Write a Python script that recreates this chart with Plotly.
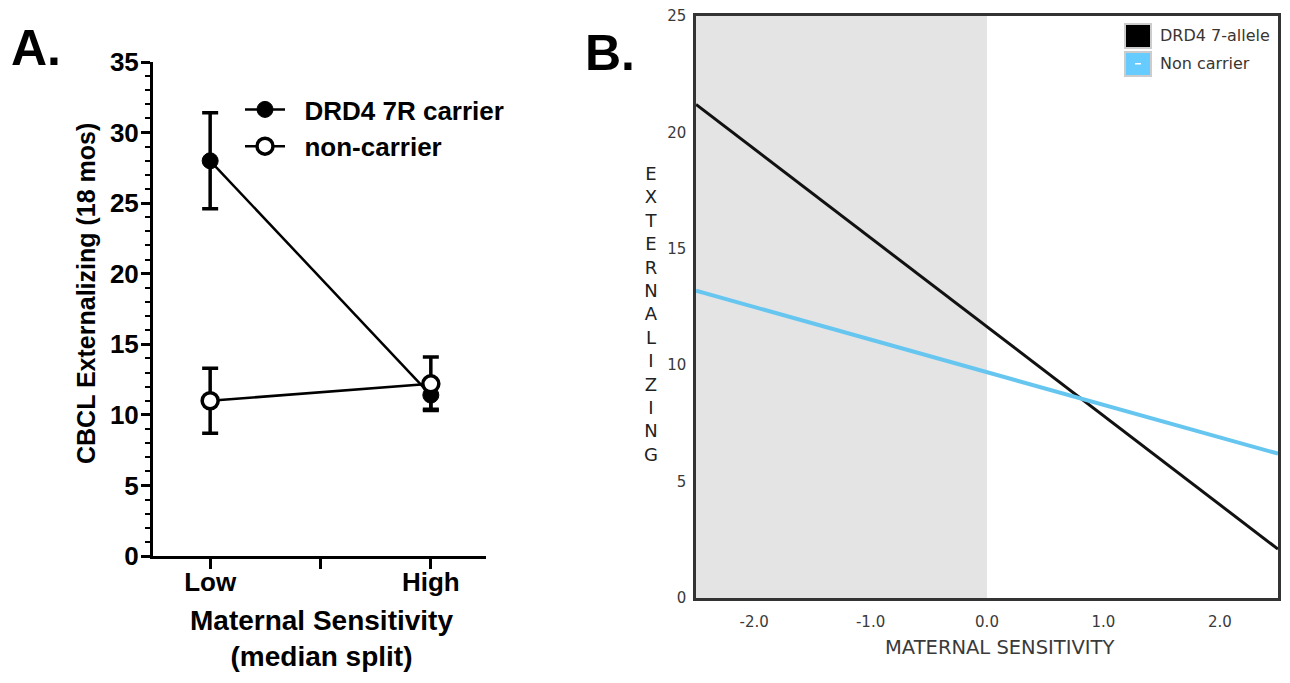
import plotly.graph_objects as go

# ---------------- Data ----------------
# Panel A (median split)
a_categories = ["Low", "High"]
a_cat_pos = [0, 1]
carrier_mean = [28.0, 11.4]
carrier_err_plus = [3.4, 1.0]
carrier_err_minus = [3.4, 1.0]
noncarrier_mean = [11.0, 12.2]
noncarrier_err_plus = [2.3, 1.9]
noncarrier_err_minus = [2.3, 1.9]

# Panel B (regression lines)
b_x = [-2.5, 2.5]
b_drd4 = [21.2, 2.1]
b_noncarrier = [13.2, 6.2]
b_xticks = [-2.0, -1.0, 0.0, 1.0, 2.0]
b_xticklabels = ["-2.0", "-1.0", "0.0", "1.0", "2.0"]
b_yticks = [0, 5, 10, 15, 20, 25]
b_ylabel_letters = list("EXTERNALIZING")

# The page body has an 8px margin, so the figure starts at (8, 8) in the window.
OFF = 8
W, H = 1274, 667
def px(x):
    return (x - OFF) / W
def py(y):
    return 1 - (y - OFF) / H

fig = go.Figure()

BOLD = "Liberation Sans"
VER = "DejaVu Sans"
GREY = "#3a3a3a"
NB = "\u00a0\u00a0"
# ---------------- Panel A ----------------
fig.add_trace(go.Scatter(
    x=a_cat_pos, y=carrier_mean, mode="lines+markers", name=NB + "DRD4 7R carrier",
    xaxis="x", yaxis="y", legend="legend", legendgroup="c",
    line=dict(color="black", width=2.5),
    marker=dict(symbol="circle", size=16, color="black", line=dict(color="black", width=1)),
    error_y=dict(type="data", symmetric=False, array=carrier_err_plus,
                 arrayminus=carrier_err_minus, thickness=3.5, width=8, color="black"),
))
fig.add_trace(go.Scatter(
    x=a_cat_pos, y=noncarrier_mean, mode="lines+markers", name=NB + "non-carrier",
    xaxis="x", yaxis="y", legend="legend", legendgroup="n",
    line=dict(color="black", width=2.5),
    marker=dict(symbol="circle", size=16, color="white", line=dict(color="black", width=3.5)),
    error_y=dict(type="data", symmetric=False, array=noncarrier_err_plus,
                 arrayminus=noncarrier_err_minus, thickness=3.5, width=8, color="black"),
))

# ---------------- Panel B ----------------
fig.add_trace(go.Scatter(
    x=b_x, y=b_drd4, mode="lines", name="DRD4 7-allele", showlegend=False,
    xaxis="x2", yaxis="y2", line=dict(color="#111111", width=3),
))
fig.add_trace(go.Scatter(
    x=b_x, y=b_noncarrier, mode="lines", name="Non carrier", showlegend=False,
    xaxis="x2", yaxis="y2", line=dict(color="#66c6f0", width=4),
))

shapes = [
    # shaded negative-sensitivity region
    dict(type="rect", xref="x2", yref="y2 domain", x0=-2.5, x1=0.0, y0=0, y1=1,
         fillcolor="#e4e4e4", line=dict(width=0), layer="below"),
    # legend swatches panel B
    dict(type="rect", xref="paper", yref="paper", x0=px(1125), x1=px(1151), y0=py(48), y1=py(24),
         fillcolor="black", line=dict(color="#cccccc", width=2)),
    dict(type="rect", xref="paper", yref="paper", x0=px(1125), x1=px(1151), y0=py(76), y1=py(52),
         fillcolor="#66ccff", line=dict(color="#cccccc", width=2)),
    dict(type="rect", xref="paper", yref="paper", x0=px(1135), x1=px(1141), y0=py(64.5), y1=py(63),
         fillcolor="white", line=dict(width=0)),
]

annotations = [
    dict(text="A.", x=px(9), y=py(48), xref="paper", yref="paper", xanchor="left",
         yanchor="middle", showarrow=False,
         font=dict(family=BOLD, size=50, color="black", weight="bold")),
    dict(text="B.", x=px(583), y=py(53), xref="paper", yref="paper", xanchor="left",
         yanchor="middle", showarrow=False,
         font=dict(family=BOLD, size=50, color="black", weight="bold")),
    dict(text="CBCL Externalizing (18 mos)", x=px(86), y=py(294), xref="paper", yref="paper",
         textangle=-90, showarrow=False, xanchor="center", yanchor="middle",
         font=dict(family=BOLD, size=25, color="black", weight="bold")),
    dict(text="Maternal Sensitivity<br>(median split)", x=px(321), y=py(674), xref="paper",
         yref="paper", showarrow=False, xanchor="center", yanchor="bottom",
         font=dict(family=BOLD, size=28, color="black", weight="bold")),
    dict(text="MATERNAL SENSITIVITY", x=px(999), y=py(647), xref="paper", yref="paper",
         showarrow=False, xanchor="center", yanchor="middle",
         font=dict(family=VER, size=19.5, color=GREY)),
    dict(text="<br>".join(b_ylabel_letters), x=px(651), y=py(314), xref="paper", yref="paper",
         showarrow=False, xanchor="center", yanchor="middle",
         font=dict(family=VER, size=18, color="#222222")),
    dict(text="DRD4 7-allele", x=px(1158), y=py(36), xref="paper", yref="paper",
         showarrow=False, xanchor="left", yanchor="middle",
         font=dict(family=VER, size=16, color="#3a3530")),
    dict(text="Non carrier", x=px(1158), y=py(64), xref="paper", yref="paper",
         showarrow=False, xanchor="left", yanchor="middle",
         font=dict(family=VER, size=16, color="#3a3530")),
]

fig.update_layout(
    template="none",
    width=W, height=H, autosize=False,
    margin=dict(l=0, r=0, t=0, b=0, pad=0),
    paper_bgcolor="white", plot_bgcolor="white",
    showlegend=True,
    shapes=shapes, annotations=annotations,
    legend=dict(x=px(240), y=py(86), xanchor="left", yanchor="top",
                font=dict(family=BOLD, size=26, color="black", weight="bold"),
                bgcolor="rgba(0,0,0,0)", borderwidth=0, tracegroupgap=0, itemwidth=40),
    xaxis=dict(domain=[px(153), px(486)], range=[-0.259, 1.25],
               tickvals=[0, 0.5, 1], ticktext=[a_categories[0], "", a_categories[1]],
               showline=True, linecolor="black", linewidth=3,
               ticks="outside", ticklen=10, tickwidth=3, tickcolor="black",
               showgrid=False, zeroline=False, automargin=False,
               tickfont=dict(family=BOLD, size=26, color="black", weight="bold"),
               anchor="y", fixedrange=True, ticklabelstandoff=-9),
    yaxis=dict(domain=[py(556), py(62)], range=[0, 35], dtick=5, tick0=0,
               showline=True, linecolor="black", linewidth=3,
               ticks="outside", ticklen=9, tickwidth=3, tickcolor="black",
               minor=dict(dtick=1, ticks="outside", ticklen=5, tickwidth=2, tickcolor="black"),
               showgrid=False, zeroline=False, automargin=False,
               tickfont=dict(family=BOLD, size=26, color="black", weight="bold"),
               anchor="x", fixedrange=True, ticklabelstandoff=-3),
    xaxis2=dict(domain=[px(696), px(1278)], range=[-2.5, 2.5],
                tickvals=b_xticks, ticktext=b_xticklabels,
                showline=True, mirror=True, linecolor="#333333", linewidth=2.5,
                ticks="", showgrid=False, zeroline=False, automargin=False,
                tickfont=dict(family=VER, size=15, color=GREY),
                anchor="y2", fixedrange=True, ticklabelstandoff=8),
    yaxis2=dict(domain=[py(598), py(16)], range=[0, 25],
                tickvals=b_yticks,
                showline=True, mirror=True, linecolor="#333333", linewidth=2.5,
                ticks="", showgrid=False, zeroline=False, automargin=False,
                tickfont=dict(family=VER, size=15, color=GREY),
                ticklabeloverflow="allow",
                anchor="x2", fixedrange=True, ticklabelstandoff=4),
)

fig.write_html("out.html")
